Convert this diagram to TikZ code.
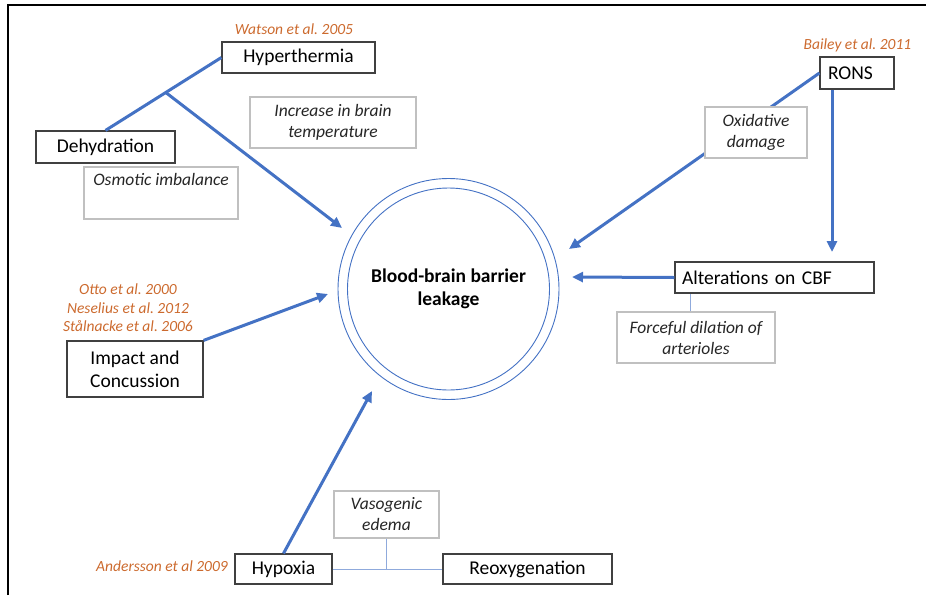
\documentclass[tikz,border=0pt]{standalone}
\usepackage{fontspec}
\setmainfont{Carlito}
\usetikzlibrary{arrows.meta,calc}
\frenchspacing

\definecolor{linkblue}{HTML}{4472C4}
\definecolor{thinblue}{HTML}{8FAADC}
\definecolor{citeorange}{HTML}{CC6A2E}
\definecolor{notegray}{HTML}{C0C0C0}
\definecolor{boxline}{HTML}{404040}

\begin{document}
\begin{tikzpicture}[x=1pt,y=-1pt,
  mainbox/.style={draw=boxline, line width=1.2pt, fill=white, inner sep=0pt,
    align=center, font=\fontsize{19.5}{23}\selectfont},
  notebox/.style={draw=notegray, line width=1.2pt, fill=white, inner sep=0pt,
    align=center, text=black!85, font=\fontsize{17.5}{21}\selectfont\itshape},
  cite/.style={text=citeorange, inner sep=0pt, align=center,
    font=\fontsize{15.5}{18.5}\selectfont\itshape},
  link/.style={draw=linkblue, line width=3pt, -{Triangle[length=11pt,width=10pt]}},
  thinlink/.style={draw=thinblue, line width=1pt}]

\useasboundingbox (0,0) rectangle (926,595);

% Frame
\draw[line width=2pt] (8,595) -- (8,5) -- (926,5);

% Central circle
\node[circle, draw=linkblue, line width=0.9pt, minimum size=221pt, inner sep=0pt,
  align=center, font=\fontsize{19.5}{22.5}\selectfont\bfseries]
  (bbb) at (448.5,289) {Blood-brain barrier\\leakage};
\draw[linkblue, line width=0.9pt] (bbb.center) circle (101);

% Arrow tips near the circle
\coordinate (tipA) at (342,228);
\coordinate (tipB) at (569,249);
\coordinate (tipC) at (832,252);
\coordinate (tipD) at (572,277);
\coordinate (tipE) at (328,294);
\coordinate (tipF) at (372,391);

% Hyperthermia and dehydration
\node[mainbox, minimum width=153pt, minimum height=31pt] (hyper) at (298.5,57.5) {Hyperthermia};
\node[mainbox, minimum width=139pt, minimum height=32pt] (dehyd) at (105.5,147) {Dehydration};
\node[cite] (watson) at (294,29) {Watson et al. 2005};

\draw[link, -] (dehyd.north) -- (hyper.west);
\coordinate (fork) at ($(dehyd.north)!0.52!(hyper.west)$);
\draw[link] (fork) -- (tipA);

\node[notebox, minimum width=166pt, minimum height=51pt] (tempnote) at (333,122.5)
  {Increase in brain\\temperature};
\node[notebox, minimum width=154pt, minimum height=52pt] (osmonote) at (161,193)
  {Osmotic imbalance\\\strut};

% RONS
\node[mainbox, minimum height=32pt, inner xsep=8pt, text width=58pt, align=left]
  (rons) at (857,73) {RONS};
\node[cite] (bailey) at (857.5,45) {Bailey et al. 2011};

\draw[link] (rons.west) -- (tipB);
\node[notebox, minimum width=102pt, minimum height=51pt] (oxnote) at (756,132.5)
  {Oxidative\\damage};

\draw[link] (tipC |- rons.south) -- (tipC);

% Cerebral blood flow
\node[mainbox, minimum height=31pt, inner xsep=7pt, text width=185pt, align=left]
  (cbf) at (774.5,277.5) {Alterations on CBF};
\draw[link] (cbf.west) -- (tipD);

\node[notebox, minimum width=158pt, minimum height=51pt] (dilnote) at (696,337.5)
  {Forceful dilation of\\arterioles};
\coordinate (dilhook) at ($(dilnote.north)+(-6,0)$);
\draw[thinlink] (dilhook) -- (dilhook |- cbf.south);

% Impact
\node[mainbox, minimum width=136pt, minimum height=56pt] (impact) at (135,369)
  {Impact and\\Concussion};
\node[cite] (impactcite) at (128,308)
  {Otto et al. 2000\\Neselius et al. 2012\\Stålnacke et al. 2006};
\draw[link] (impact.north east) -- (tipE);

% Hypoxia
\node[mainbox, minimum width=97pt, minimum height=30pt] (hypoxia) at (283.5,569) {Hypoxia};
\node[mainbox, minimum width=169pt, minimum height=30pt] (reoxy) at (527.5,569) {Reoxygenation};
\node[cite] (andersson) at (162,566) {Andersson et al 2009};
\draw[link] (hypoxia.north) -- (tipF);

\node[notebox, minimum width=105pt, minimum height=47pt] (vasonote) at (386.5,514.5)
  {Vasogenic\\edema};
\draw[thinlink] (hypoxia.east) -- (reoxy.west);
\draw[thinlink] (vasonote.south) -- (vasonote.south |- hypoxia.east);

\end{tikzpicture}
\end{document}
